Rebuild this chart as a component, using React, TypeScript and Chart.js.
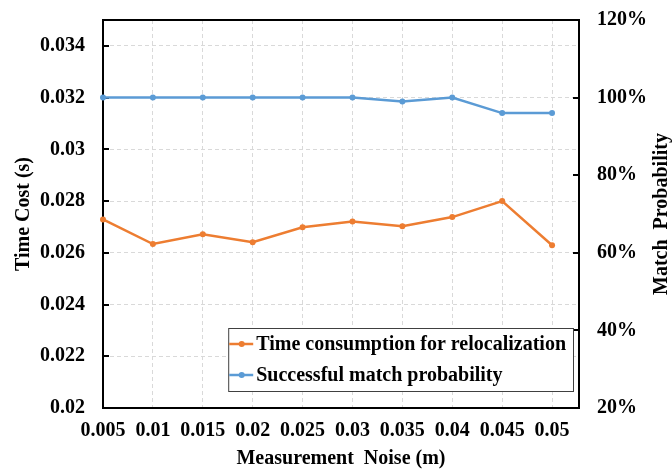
import React, { useEffect, useRef } from 'react';
import { Chart, registerables } from 'chart.js';

Chart.register(...registerables);

// ---- data ----
const noiseLevels = [0.005, 0.01, 0.015, 0.02, 0.025, 0.03, 0.035, 0.04, 0.045, 0.05];
const timeCost = [0.02729, 0.02634, 0.02672, 0.02641, 0.02699, 0.02721, 0.02703, 0.02738, 0.0280, 0.02629];
const matchProbability = [1.0, 1.0, 1.0, 1.0, 1.0, 1.0, 0.99, 1.0, 0.96, 0.96];
const leftTicks = [0.02, 0.022, 0.024, 0.026, 0.028, 0.03, 0.032, 0.034];
const rightTicks = [0.2, 0.4, 0.6, 0.8, 1.0, 1.2];
const seriesNames = ['Time consumption for relocalization', 'Successful match probability'];
const xTitle = 'Measurement  Noise (m)';
const leftTitle = 'Time Cost (s)';
const rightTitle = 'Match  Probability';

const FONT = "'Liberation Serif', 'Times New Roman', serif";
const FS = 20;
const ORANGE = '#ED7D31';
const BLUE = '#5B9BD5';
const GRID = '#d9d9d9';

const fmt = (v: number) => String(Number(v.toFixed(4)));

const decorPlugin = {
  id: 'decor',
  beforeDatasetsDraw(chart: any) {
    const { ctx, chartArea } = chart;
    const { left, right, top, bottom } = chartArea;
    ctx.save();
    ctx.strokeStyle = '#000';
    ctx.lineWidth = 2;
    ctx.setLineDash([]);
    ctx.strokeRect(left, top, right - left, bottom - top);
    // inward tick marks
    const yl = chart.scales.y;
    const yr = chart.scales.y1;
    ctx.beginPath();
    leftTicks.forEach((v) => {
      const p = Math.round(yl.getPixelForValue(v));
      ctx.moveTo(left, p);
      ctx.lineTo(left + 6, p);
    });
    rightTicks.forEach((v) => {
      const p = Math.round(yr.getPixelForValue(v));
      ctx.moveTo(right - 6, p);
      ctx.lineTo(right, p);
    });
    ctx.stroke();
    ctx.restore();
  },
  afterDatasetsDraw(chart: any) {
    const { ctx, chartArea } = chart;
    const { right, bottom, top } = chartArea;
    ctx.save();
    // right axis title
    ctx.font = `bold ${FS}px ${FONT}`;
    ctx.fillStyle = '#000';
    ctx.textAlign = 'center';
    ctx.textBaseline = 'middle';
    ctx.translate(662, (top + bottom) / 2);
    ctx.rotate(-Math.PI / 2);
    ctx.fillText(rightTitle, 0, 0);
    ctx.restore();

    // legend
    ctx.save();
    ctx.font = `bold ${FS}px ${FONT}`;
    const ds = chart.data.datasets;
    const widths = ds.map((d: any) => ctx.measureText(d.label).width);
    const maxW = Math.max(...widths);
    const markLen = 25;
    const boxW = markLen + 3 + maxW + 7;
    const boxH = 63;
    const bx = right - 6 - boxW;
    const by = bottom - 17 - boxH;
    ctx.fillStyle = '#fff';
    ctx.fillRect(bx, by, boxW, boxH);
    ctx.strokeStyle = '#404040';
    ctx.lineWidth = 1;
    ctx.strokeRect(bx + 0.5, by + 0.5, boxW, boxH);
    ds.forEach((d: any, i: number) => {
      const cy = by + 16 + i * 31;
      ctx.strokeStyle = d.borderColor;
      ctx.lineWidth = 2.5;
      ctx.beginPath();
      ctx.moveTo(bx + 1, cy);
      ctx.lineTo(bx + markLen, cy);
      ctx.stroke();
      ctx.fillStyle = d.borderColor;
      ctx.beginPath();
      ctx.arc(bx + 1 + markLen / 2, cy, 3, 0, Math.PI * 2);
      ctx.fill();
      ctx.fillStyle = '#000';
      ctx.textAlign = 'left';
      ctx.textBaseline = 'middle';
      ctx.fillText(d.label, bx + markLen + 3, cy + 1);
    });
    ctx.restore();
  },
};

export default function App() {
  const ref = useRef<HTMLCanvasElement | null>(null);
  useEffect(() => {
    if (!ref.current) return;
    const tickFont = { family: FONT, size: FS, weight: 'bold' as const };
    const chart = new Chart(ref.current, {
      type: 'line',
      data: {
        datasets: [
          {
            label: seriesNames[0],
            data: noiseLevels.map((x, i) => ({ x, y: timeCost[i] })),
            borderColor: ORANGE,
            backgroundColor: ORANGE,
            borderWidth: 2.5,
            pointRadius: 3,
            pointBorderWidth: 0,
            yAxisID: 'y',
            clip: false as any,
          },
          {
            label: seriesNames[1],
            data: noiseLevels.map((x, i) => ({ x, y: matchProbability[i] })),
            borderColor: BLUE,
            backgroundColor: BLUE,
            borderWidth: 2.5,
            pointRadius: 3,
            pointBorderWidth: 0,
            yAxisID: 'y1',
            clip: false as any,
          },
        ],
      },
      options: {
        responsive: false,
        animation: false,
        devicePixelRatio: 1,
        layout: { padding: { top: 20, left: 0, right: 0, bottom: 0 }, autoPadding: false },
        plugins: { legend: { display: false }, tooltip: { enabled: false } },
        scales: {
          x: {
            type: 'linear',
            position: 'bottom',
            min: 0.005,
            max: 0.0527,
            afterBuildTicks: (s: any) => {
              s.ticks = noiseLevels.map((v) => ({ value: v }));
            },
            afterFit: (s: any) => {
              s.height = 61;
              s.paddingLeft = 0;
              s.paddingRight = 0;
              s.paddingTop = 0;
              s.paddingBottom = 0;
            },
            ticks: {
              color: '#000',
              font: tickFont,
              padding: 11,
              maxRotation: 0,
              autoSkip: false,
              callback: (v: any) => fmt(Number(v)),
            },
            grid: { color: GRID, lineWidth: 1, drawTicks: false },
            border: { display: false, dash: [4, 3] },
            title: {
              display: true,
              text: xTitle,
              color: '#000',
              font: { family: FONT, size: FS, weight: 'bold', lineHeight: 1 },
              padding: { top: 0, bottom: 0 },
            },
          },
          y: {
            type: 'linear',
            position: 'left',
            min: 0.02,
            max: 0.035,
            afterBuildTicks: (s: any) => {
              s.ticks = leftTicks.map((v) => ({ value: v }));
            },
            afterFit: (s: any) => {
              s.width = 103;
              s.paddingTop = 0;
              s.paddingBottom = 0;
              s.paddingLeft = 0;
              s.paddingRight = 0;
            },
            ticks: {
              color: '#000',
              font: tickFont,
              padding: 18,
              autoSkip: false,
              callback: (v: any) => fmt(Number(v)),
            },
            grid: { color: GRID, lineWidth: 1, drawTicks: false },
            border: { display: false, dash: [4, 3] },
            title: {
              display: true,
              text: leftTitle,
              color: '#000',
              font: { family: FONT, size: FS, weight: 'bold' },
              padding: { top: 12, bottom: 0 },
            },
          },
          y1: {
            type: 'linear',
            position: 'right',
            min: 0.2,
            max: 1.2,
            afterBuildTicks: (s: any) => {
              s.ticks = rightTicks.map((v) => ({ value: v }));
            },
            afterFit: (s: any) => {
              s.width = 93;
              s.paddingTop = 0;
              s.paddingBottom = 0;
              s.paddingLeft = 0;
              s.paddingRight = 0;
            },
            ticks: {
              color: '#000',
              font: tickFont,
              padding: 18,
              autoSkip: false,
              callback: (v: any) => `${Math.round(Number(v) * 100)}%`,
            },
            grid: { display: false, drawTicks: false },
            border: { display: false },
          },
        },
      },
      plugins: [decorPlugin],
    });
    return () => chart.destroy();
  }, []);
  return (
    <div style={{ position: 'absolute', left: 0, top: 0, width: 672, height: 469, background: '#fff' }}>
      <canvas ref={ref} width={672} height={469} style={{ display: 'block' }} />
    </div>
  );
}
